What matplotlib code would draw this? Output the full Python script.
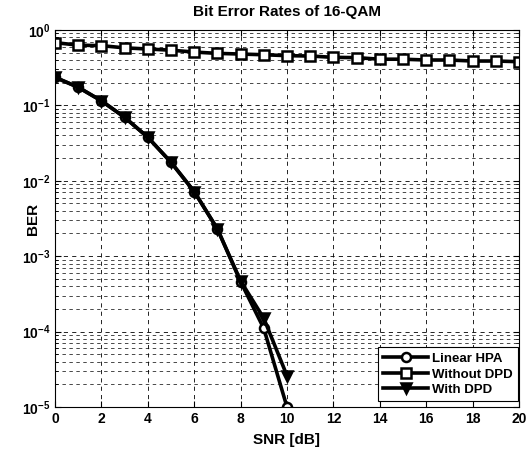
import numpy as np
import matplotlib
matplotlib.use("Agg")
import matplotlib.pyplot as plt

plt.rcParams['font.family'] = ['Liberation Sans', 'DejaVu Sans']
plt.rcParams['mathtext.fontset'] = 'custom'
plt.rcParams['mathtext.rm'] = 'Liberation Sans:bold'
plt.rcParams['mathtext.default'] = 'rm'

snr_db = list(range(0, 21))

# BER curves
ber_linear = [0.236, 0.174, 0.115, 0.0695, 0.0378, 0.0176, 0.0072, 0.0023,
              0.00046, 0.00011, 0.00001]
ber_with_dpd = [0.236, 0.174, 0.115, 0.0695, 0.0378, 0.0176, 0.0072, 0.0023,
                0.00047, 0.00015, 0.000026]
ber_without_dpd = [0.68, 0.63, 0.62, 0.58, 0.56, 0.54, 0.51, 0.49, 0.48, 0.47,
                   0.457, 0.452, 0.434, 0.43, 0.41, 0.41, 0.40, 0.40, 0.388,
                   0.388, 0.38]

fig = plt.figure(figsize=(5.26, 4.5), dpi=100)
ax = fig.add_axes([0.1046, 0.0956, 0.882, 0.8377])

lw = 2.6
ax.semilogy(snr_db[:len(ber_linear)], ber_linear, 'k-', marker='o', ms=6.5,
            mfc='white', mew=1.8, lw=lw, label='Linear HPA')
ax.semilogy(snr_db, ber_without_dpd, 'k-', marker='s', ms=6.5,
            mfc='white', mew=1.8, lw=lw, label='Without DPD')
ax.semilogy(snr_db[:len(ber_with_dpd)], ber_with_dpd, 'k-', marker='v', ms=7,
            mfc='black', mew=1.8, lw=lw, label='With DPD')

ax.set_xlim(0, 20)
ax.set_ylim(1e-5, 1e0)
ax.set_xticks(range(0, 21, 2))
ax.tick_params(which='both', direction='in', top=True, right=True)
ax.tick_params(which='major', length=4, labelsize=10)
ax.tick_params(which='minor', length=2)
for lab in ax.get_xticklabels() + ax.get_yticklabels():
    lab.set_fontweight('bold')

dash = (0, (5, 5))
ax.grid(True, which='major', axis='both', color='k', linestyle=dash, linewidth=0.6)
ax.grid(True, which='minor', axis='y', color='k', linestyle=dash, linewidth=0.5)

ax.set_title('Bit Error Rates of 16-QAM', fontsize=11, fontweight='bold', pad=10)
ax.set_xlabel('SNR [dB]', fontsize=11, fontweight='bold', labelpad=5)
ax.set_ylabel('BER', fontsize=11, fontweight='bold')
ax.yaxis.set_label_coords(-0.032, 0.5)

leg = ax.legend(loc='lower right', bbox_to_anchor=(0.998, 0.015),
                fontsize=9.5, handlelength=3.4, borderaxespad=0,
                fancybox=False, framealpha=1, edgecolor='k',
                labelspacing=0.25, handletextpad=0.3)
leg.get_frame().set_linewidth(0.8)
for t in leg.get_texts():
    t.set_fontweight('bold')

fig.savefig('out.png', dpi=100)
